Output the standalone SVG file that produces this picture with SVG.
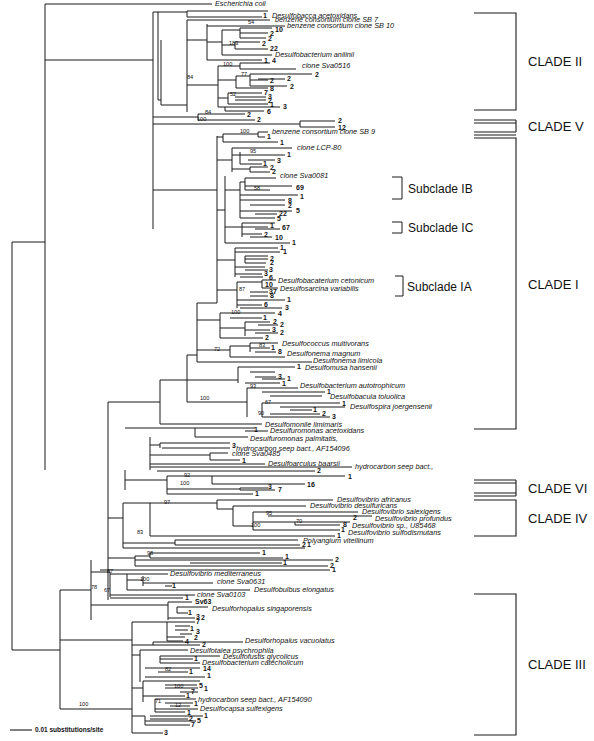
<svg xmlns="http://www.w3.org/2000/svg" width="594" height="741" viewBox="0 0 594 741">
<style>
.t{fill:none;stroke:#1a1a1a;stroke-width:1}
.b{fill:none;stroke:#1a1a1a;stroke-width:1.1}
.sp{font-family:"Liberation Sans",Arial,sans-serif;font-style:italic;font-size:7.3px;fill:#111}
.n{font-family:"Liberation Sans",Arial,sans-serif;font-weight:bold;font-size:7px;fill:#111}
.bs{font-family:"Liberation Sans",Arial,sans-serif;font-size:5.6px;fill:#111}
.cl{font-family:"Liberation Sans",Arial,sans-serif;font-size:13px;fill:#111}
.sc{font-family:"Liberation Sans",Arial,sans-serif;font-size:12px;fill:#111}
</style>
<rect width="594" height="741" fill="#fff"/>
<g id="connectors">
<path class="t" d="M45,4 H212 M45,4 V470 M12,242 H45 M12,242 V650 H60 M60,590 V709 H132 M60,590 H91 M91,560 V620
M45,60 H153 M153,12 V229 M153,12 H158 M158,12 V100 M158,12 H187 M187,11 V17 M187,11 H268 M187,17 H262
M158,100 H161 M161,40 V105 H187 M187,20 V112 M187,20 H270
M187,40 H207 M207,24 V60 M207,26 H285 M207,60 H262 M207,42 H222 M222,30 V55 M222,30 H240 M240,28 V38 M240,28 H272 M240,33 H268 M240,38 H266 M222,45 H235 M235,42 V49 M235,42 H260 M235,49 H268 M222,55 H272
M187,85 H218 M218,66 V107 M218,66 H240 M240,63 V69 M240,63 H270 M240,69 H296
M218,80 H236 M236,76 V88 M236,76 H250 M250,74 V86 M250,74 H312 M250,80 H268 M258,79 H285 M250,86 H287 M236,88 H268
M218,98 H228 M228,93 V104 M228,93 H262 M235,97 H266 M235,100 H266 M228,104 H268 M218,107 H225 M225,107 V111 M225,107 H280 M225,111 H264
M153,117 H198 M198,114 V120 M198,114 H245 M198,120 H255
M153,124 H300 M300,121 V127 M300,121 H335 M300,127 H335
M153,190 H217 M217,136 V303 M217,137 H223 M223,134 V142 M223,134 H258 M258,132 V137 M258,132 H268 M258,137 H265 M223,142 H278
M217,160 H232 M232,148 V172 M232,148 H292 M232,155 H240 M240,152 V164 M240,155 H285 M248,160 H275 M240,164 H262 M232,169 H250 M250,167 V172 M250,167 H268 M250,172 H270
M217,210 H225 M225,176 V243 M225,190 H240 M240,182 V218 M240,182 H245 M245,178 V190 M245,178 H276 M245,186 H292 M245,190 H270 M240,195 H298 M240,200 H285 M250,205 H285 M240,211 H292 M255,214 H277 M240,218 H275
M225,227 H242 M242,223 V237 M242,223 H275 M242,227 H268 M255,229 H280 M242,234 H262 M250,237 H272 M225,243 H290
M217,260 H235 M235,248 V277 M235,248 H278 M235,252 H280 M245,256 H268 M245,256 V263 M245,259 H268 M245,263 H266 M235,267 H265 M245,270 H268 M235,274 H262 M240,277 H263
M217,290 H237 M237,282 V308 M237,282 H262 M262,280 V288 M262,280 H276 M262,288 H278 M250,292 H268 M250,296 H268 M237,300 H285 M237,305 H262 M240,308 H282
M197,303 H217 M197,303 V362 M197,320 H220 M220,313 V338 M220,313 H275 M230,318 H262 M220,328 H245 M245,322 V336 M245,322 H270 M258,325 H278 M245,330 H270 M255,333 H278 M220,338 H263
M197,350 H230 M230,346 V357 M230,346 H250 M250,343 V352 M250,343 H278 M250,348 H270 M255,352 H276 M230,357 H285
M197,362 H312
M187,355 V402 M187,355 H197 M187,380 H238 M238,367 V383 M238,367 H295 M250,372 H275 M255,377 H276 M262,379 H285 M245,383 H280
M187,402 H247 M247,388 V417 M247,388 H298 M262,392 H325 M270,396 H322 M262,403 V417 M262,403 H340 M280,407 H345 M290,410 H312 M270,414 H320 M262,417 H330
M160,380 V424 M160,380 H187 M160,424 H262 M108,402 V600 M108,402 H160
M125,428 H195 M195,428 V437 M195,428 H255 M245,431 H268 M195,437 H248 M150,437 V470
M150,445 H160 M160,443 V448 M160,443 H230 M162,448 H230 M150,455 H210 M210,453 V460 M210,453 H228 M210,460 H240 M150,464 H265 M150,467 H352 M157,471 H315
M125,470 V490 M125,480 H167 M167,476 V494 M167,476 H212 M212,476 V484 M212,476 H345 M212,484 H305 M167,489 H240 M240,488 V490 M240,488 H268 M240,490 H275 M167,494 H253
M108,518 H123 M123,503 V548 M123,503 H150 M150,503 V536 M150,503 H217 M217,500 V509 M217,500 H333 M217,509 H233 M233,506 V526 M233,506 H306 M233,526 H253 M253,512 V530 M253,512 H358 M268,516 H372 M253,522 H295 M295,522 V525 M295,522 H350 M295,525 H340 M253,530 H340 M150,536 H335
M123,543 H175 M175,540 V545 M175,540 H298 M175,545 H300 M123,548 H305
M108,558 H135 M135,556 V566 M150,553 V558 M135,556 H150 M150,553 H260 M150,558 H283 M135,560 H333 M190,563 H282 M135,566 H328 M100,570 H330
M91,572 H110 M110,572 V597 M110,574 H127 M127,574 V590 M127,574 H168 M127,580 H143 M143,576 V586 M143,583 H213 M165,586 H172 M127,590 H250 M110,595 H195 M110,598 H183
M91,605 H168 M168,602 V620 M168,602 H192 M177,607 H208 M177,607 V613 M177,613 H188 M168,618 H195
M60,640 H132 M132,622 V733 M132,622 H167 M167,622 V641 M167,622 H195 M175,626 H190 M175,630 H188 M180,634 H192 M167,637 H185 M167,641 H183
M132,645 H153 M153,642 V645 M153,642 H243 M153,645 H200
M132,655 H140 M140,650 V682 M140,650 H188 M160,656 V663 M160,656 H220 M160,659 H193 M160,663 H200 M145,668 H200 M158,672 H188 M145,677 H205
M132,688 H143 M143,681 V702 M143,681 H200 M165,685 H197 M165,688 H198 M180,692 H198 M143,696 H185 M155,699 H196 M155,699 V712 M165,703 H193 M170,706 H190 M155,709 H198 M155,712 H185
M132,716 H145 M145,716 V725 M150,716 H203 M150,719 H188 M145,721 H196 M145,725 H190 M132,733 H163"/>
</g>
<g id="scale"><path class="b" d="M10,730 H32"/><text class="n" x="35" y="732" style="font-size:6.5px">0.01 substitutions/site</text></g>
<g id="taxa">
<g id="t1"><text class="sp" x="215" y="6">Escherichia coli</text></g>
<g id="t2"><text class="sp" x="272" y="18">Desulfobacca acetoxidans</text></g>
<g id="t3"><text class="sp" x="275" y="22">benzene consortium clone SB 7</text></g>
<g id="t4"><text class="sp" x="287" y="28">benzene consortium clone SB 10</text></g>
<g id="t5"><text class="sp" x="275" y="57">Desulfobacterium anilinii</text></g>
<g id="t6"><text class="sp" x="302" y="68">clone Sva0516</text></g>
<g id="t7"><text class="sp" x="272" y="134">benzene consortium clone SB 9</text></g>
<g id="t8"><text class="sp" x="297" y="150">clone LCP-80</text></g>
<g id="t9"><text class="sp" x="280" y="178">clone Sva0081</text></g>
<g id="t10"><text class="sp" x="278" y="283">Desulfobacaterium cetonicum</text></g>
<g id="t11"><text class="sp" x="280" y="291">Desulfosarcina variabilis</text></g>
<g id="t12"><text class="sp" x="282" y="346">Desulfococcus multivorans</text></g>
<g id="t13"><text class="sp" x="287" y="356">Desulfonema magnum</text></g>
<g id="t14"><text class="sp" x="313" y="363">Desulfonema limicola</text></g>
<g id="t15"><text class="sp" x="305" y="370">Desulfomusa hansenii</text></g>
<g id="t16"><text class="sp" x="300" y="388">Desulfobacterium autotrophicum</text></g>
<g id="t17"><text class="sp" x="330" y="399">Desulfobacula toluolica</text></g>
<g id="t18"><text class="sp" x="350" y="409">Desulfospira joergensenii</text></g>
<g id="t19"><text class="sp" x="265" y="427">Desulfomonile limimaris</text></g>
<g id="t20"><text class="sp" x="270" y="433">Desulfuromonas acetoxidans</text></g>
<g id="t21"><text class="sp" x="250" y="441">Desulfuromonas palmitatis,</text></g>
<g id="t22"><text class="sp" x="236" y="451">hydrocarbon seep bact., AF154096</text></g>
<g id="t23"><text class="sp" x="232" y="456">clone Sva0485</text></g>
<g id="t24"><text class="sp" x="268" y="466">Desulfoarculus baarsii</text></g>
<g id="t25"><text class="sp" x="355" y="469">hydrocarbon seep bact.,</text></g>
<g id="t26"><text class="sp" x="337" y="502">Desulfovibrio africanus</text></g>
<g id="t27"><text class="sp" x="310" y="508">Desulfovibrio desulfuricans</text></g>
<g id="t28"><text class="sp" x="362" y="514">Desulfovibrio salexigens</text></g>
<g id="t29"><text class="sp" x="375" y="521">Desulfovibrio profundus</text></g>
<g id="t30"><text class="sp" x="352" y="528">Desulfovibrio sp., U85468</text></g>
<g id="t31"><text class="sp" x="348" y="535">Desulfovibrio sulfodismutans</text></g>
<g id="t32"><text class="sp" x="303" y="543">Polyangium vitellinum</text></g>
<g id="t33"><text class="sp" x="170" y="576">Desulfovibrio mediterraneus</text></g>
<g id="t34"><text class="sp" x="217" y="584">clone Sva0631</text></g>
<g id="t35"><text class="sp" x="254" y="592">Desulfobulbus elongatus</text></g>
<g id="t36"><text class="sp" x="197" y="597">clone Sva0103</text></g>
<g id="t37"><text class="n" x="195" y="604">Sv63</text></g>
<g id="t38"><text class="sp" x="212" y="611">Desulforhopalus singaporensis</text></g>
<g id="t39"><text class="sp" x="245" y="643">Desulforhopalus vacuolatus</text></g>
<g id="t40"><text class="sp" x="190" y="653">Desulfotalea psychrophila</text></g>
<g id="t41"><text class="sp" x="223" y="659">Desulfofustis glycolicus</text></g>
<g id="t42"><text class="sp" x="202" y="665">Desulfobacterium catecholicum</text></g>
<g id="t43"><text class="sp" x="198" y="702">hydrocarbon seep bact., AF154090</text></g>
<g id="t44"><text class="sp" x="200" y="711">Desulfocapsa sulfexigens</text></g>
</g>
<g id="counts" class="n">
<text x="263" y="18">1</text><text x="272" y="63">4</text><text x="275" y="32">10</text><text x="270" y="36">2</text><text x="268" y="41">2</text><text x="262" y="46">2</text><text x="270" y="51">22</text><text x="264" y="63">1</text>
<text x="315" y="77">2</text><text x="270" y="83">2</text><text x="287" y="81">2</text><text x="290" y="89">2</text><text x="270" y="91">8</text><text x="264" y="95">7</text><text x="268" y="99">3</text><text x="268" y="103">2</text><text x="270" y="107">1</text><text x="283" y="109">3</text><text x="267" y="114">6</text><text x="247" y="117">2</text><text x="257" y="122">2</text>
<text x="338" y="123">2</text><text x="338" y="130">12</text><text x="267" y="139">1</text><text x="280" y="145">1</text><text x="287" y="157">1</text><text x="277" y="163">3</text><text x="263" y="166">1</text><text x="270" y="170">2</text><text x="272" y="174">2</text>
<text x="296" y="190">69</text><text x="300" y="199">1</text><text x="288" y="203">8</text><text x="288" y="208">2</text><text x="296" y="213">5</text><text x="279" y="216">22</text><text x="277" y="221">5</text><text x="282" y="230">67</text><text x="270" y="228">1</text><text x="264" y="237">2</text><text x="275" y="240">10</text><text x="292" y="245">1</text>
<text x="280" y="250">1</text><text x="283" y="254">1</text><text x="270" y="261">2</text><text x="270" y="265">2</text><text x="269" y="272">3</text><text x="264" y="276">3</text><text x="269" y="280">6</text><text x="265" y="287">10</text><text x="269" y="294">37</text><text x="270" y="298">8</text><text x="287" y="302">1</text><text x="264" y="307">6</text><text x="285" y="310">3</text>
<text x="278" y="316">4</text><text x="263" y="320">1</text><text x="273" y="324">2</text><text x="280" y="327">2</text><text x="272" y="332">3</text><text x="280" y="335">2</text><text x="265" y="340">2</text><text x="271" y="350">1</text><text x="278" y="354">8</text><text x="297" y="369">1</text>
<text x="278" y="379">3</text><text x="287" y="381">1</text><text x="282" y="386">1</text><text x="327" y="394">1</text><text x="342" y="406">1</text><text x="313" y="412">1</text><text x="322" y="416">2</text><text x="332" y="419">3</text>
<text x="254" y="432">1</text><text x="232" y="448">3</text><text x="242" y="463">1</text><text x="317" y="473">2</text><text x="348" y="479">1</text><text x="307" y="487">16</text><text x="268" y="489">3</text><text x="278" y="492">7</text><text x="255" y="496">1</text>
<text x="353" y="520">2</text><text x="343" y="527">8</text><text x="341" y="532">1</text><text x="337" y="538">1</text><text x="307" y="547">1</text><text x="302" y="547">2</text><text x="262" y="555">1</text><text x="285" y="559">1</text>
<text x="335" y="562">2</text><text x="283" y="565">1</text><text x="330" y="568">2</text><text x="332" y="572">1</text><text x="172" y="588">1</text><text x="185" y="600">1</text><text x="188" y="615">1</text><text x="196" y="619">3</text><text x="201" y="620">2</text>
<text x="196" y="624">7</text><text x="190" y="631">1</text><text x="196" y="634">3</text><text x="194" y="640">2</text><text x="185" y="644">4</text><text x="202" y="647">2</text><text x="194" y="661">1</text><text x="203" y="671">14</text><text x="189" y="674">1</text><text x="207" y="678">1</text>
<text x="199" y="688">5</text><text x="204" y="691">1</text><text x="191" y="694">7</text><text x="186" y="698">1</text><text x="194" y="706">1</text><text x="187" y="715">1</text><text x="204" y="718">1</text><text x="189" y="721">2</text><text x="197" y="723">5</text><text x="191" y="727">7</text><text x="164" y="735">3</text>
</g>
<g id="bootstrap" class="bs">
<text x="248" y="24">54</text><text x="229" y="45">183</text><text x="223" y="66">100</text><text x="187" y="79">84</text><text x="241" y="76">77</text><text x="230" y="96">52</text><text x="205" y="114">84</text><text x="197" y="121">100</text>
<text x="240" y="133">100</text><text x="250" y="153">95</text><text x="254" y="190">58</text><text x="239" y="291">87</text><text x="231" y="314">100</text><text x="214" y="351">72</text><text x="259" y="347">83</text>
<text x="250" y="388">93</text><text x="200" y="400">100</text><text x="265" y="404">67</text><text x="258" y="415">90</text><text x="184" y="477">92</text><text x="180" y="485">100</text>
<text x="164" y="504">97</text><text x="266" y="515">95</text><text x="296" y="523">70</text><text x="251" y="527">100</text><text x="137" y="534">83</text><text x="147" y="555">98</text>
<text x="107" y="573">87</text><text x="140" y="581">100</text><text x="91" y="589">78</text><text x="104" y="592">67</text><text x="165" y="671">82</text><text x="174" y="688">100</text><text x="155" y="703">71</text><text x="175" y="707">12</text><text x="79" y="706">100</text>
</g>
<g id="brackets">
<path class="b" d="M474,13 H516 V110 H474 M474,120 H516 M474,123 H516 M516,120 V132 M474,132 H516 M474,135 H516 M474,138 H516 V429 H474 M474,480 H516 M474,483 H516 M516,480 V496 M474,493 H516 M474,496 H516 M474,500 H516 V536 H474 M474,594 H516 V735 H474"/>
<path class="t" d="M392,177 H402 V199 H392 M392,222 H402 V233 H392 M395,276 H403 V296 H395"/>
</g>
<g id="clade-labels">
<text class="cl" x="528" y="66">CLADE II</text>
<text class="cl" x="528" y="131">CLADE V</text>
<text class="cl" x="528" y="289">CLADE I</text>
<text class="cl" x="528" y="493">CLADE VI</text>
<text class="cl" x="528" y="523">CLADE IV</text>
<text class="cl" x="528" y="669">CLADE III</text>
<text class="sc" x="408" y="193">Subclade IB</text>
<text class="sc" x="408" y="232">Subclade IC</text>
<text class="sc" x="407" y="291">Subclade IA</text>
</g>
</svg>
